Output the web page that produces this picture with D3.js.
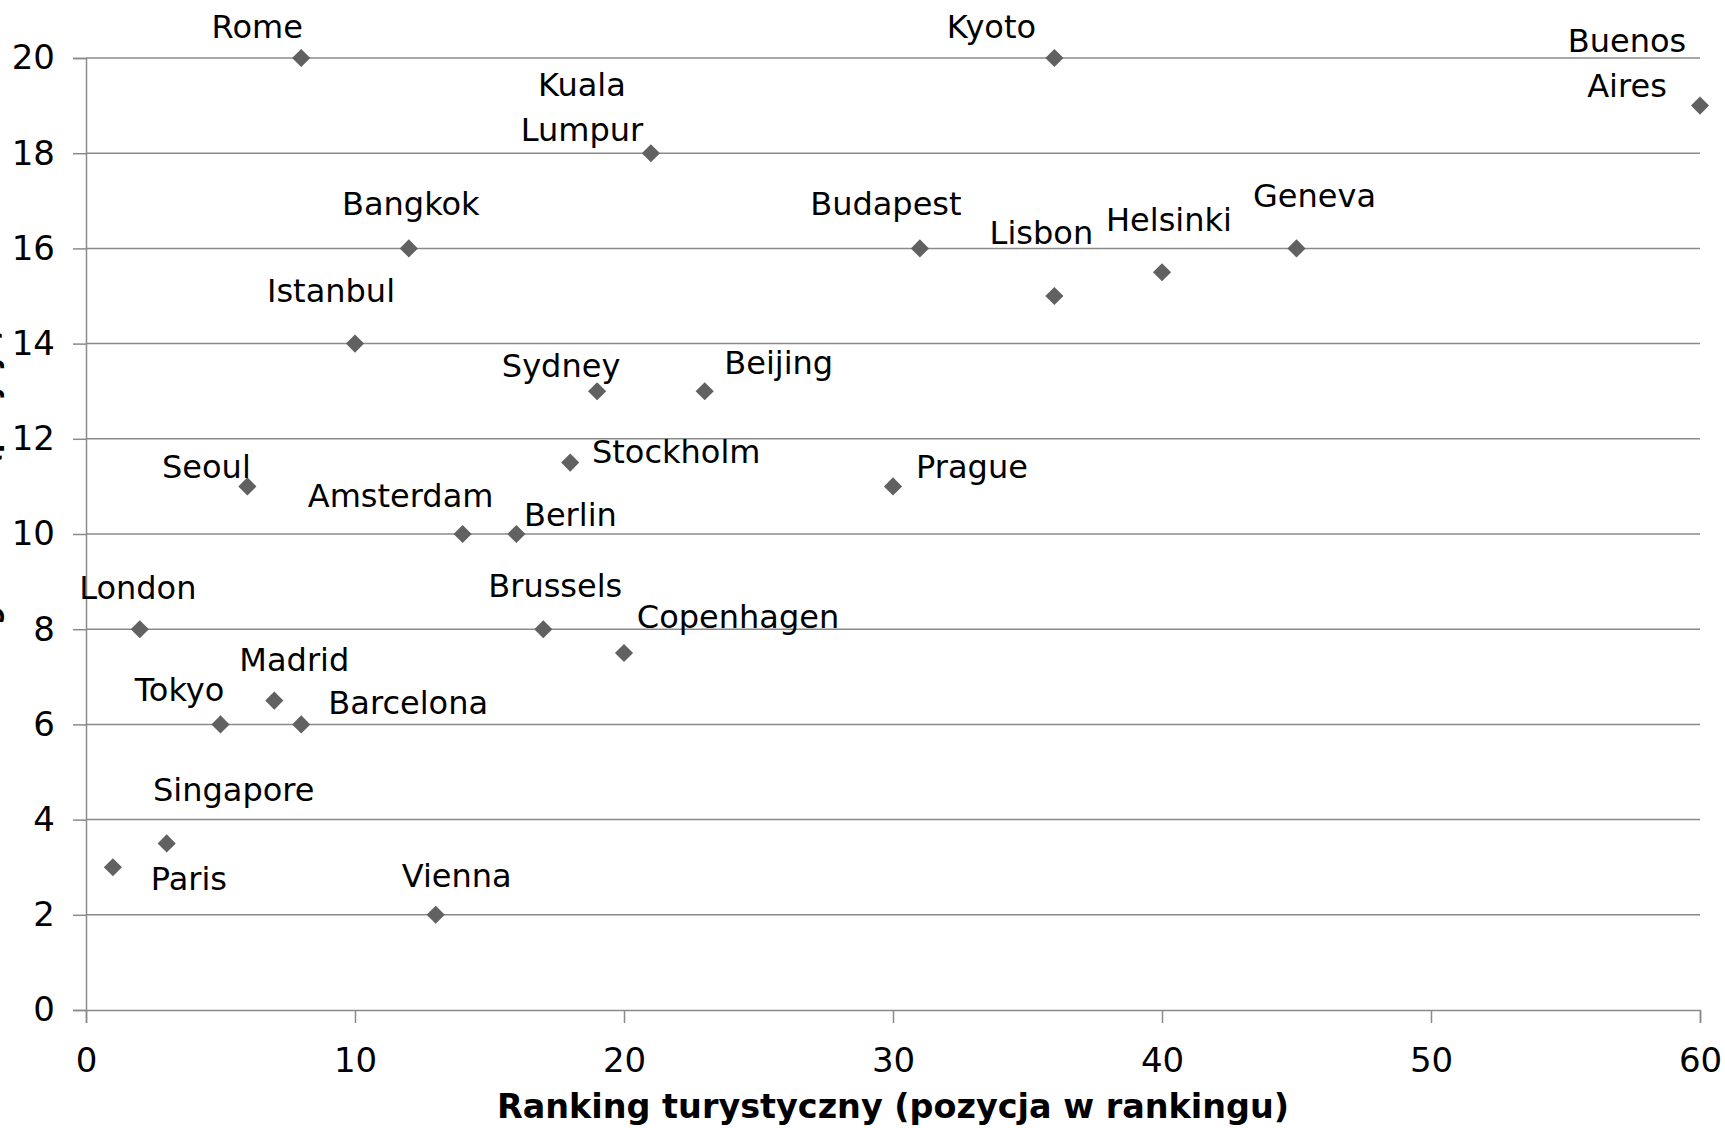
<!DOCTYPE html>
<html>
<head>
<meta charset="utf-8">
<script src="https://cdn.jsdelivr.net/npm/d3@7"></script>
<style>
  html, body { margin: 0; padding: 0; background: #fff; }
  svg { display: block; }
  text { font-family: "DejaVu Sans", Verdana, sans-serif; fill: #000; }
</style>
</head>
<body>
<script>
// ---- data ----
const cities = ["Rome","Kyoto","Buenos\nAires","Kuala\nLumpur","Bangkok","Budapest","Geneva","Helsinki","Lisbon","Istanbul","Sydney","Beijing","Stockholm","Seoul","Prague","Amsterdam","Berlin","London","Brussels","Copenhagen","Madrid","Tokyo","Barcelona","Singapore","Paris","Vienna"];
const tourismRank = [8,36,60,21,12,31,45,40,36,10,19,23,18,6,30,14,16,2,17,20,7,5,8,3,1,13];
const costRank =    [20,20,19,18,16,16,16,15.5,15,14,13,13,11.5,11,11,10,10,8,8,7.5,6.5,6,6,3.5,3,2];
const xTicks = [0,10,20,30,40,50,60];
const yTicks = [0,2,4,6,8,10,12,14,16,18,20];
const xTitle = "Ranking turystyczny (pozycja w rankingu)";
const yTitle = "Ranking kosztów (pozycja)";

// ---- label layout (pixel offsets from marker: centre x, middle y of first line) ----
const labelOffsets = [[-44,-32],[-63,-32],[-73,-65],[-69,-69],[2,-45],[-34,-45],[18,-53],[7,-53],[-13,-64],[-24,-53],[-36,-26],[74,-29],[106,-11],[-41,-20],[79,-20],[-62,-39],[54,-20],[-2,-42],[12,-44],[114,-37],[20,-41],[-41,-35],[107,-22],[67,-54],[76,11],[21,-39]];

const W = 1725, H = 1128;
const svg = d3.select("body").append("svg").attr("width", W).attr("height", H);

const x = d3.scaleLinear().domain([0, 60]).range([86, 1700]);
const y = d3.scaleLinear().domain([0, 20]).range([1010, 58]);
const grey = "#8a8a8a";

// gridlines
svg.append("g").selectAll("line").data(yTicks.filter(d => d > 0)).join("line")
  .attr("x1", x(0)).attr("x2", x(60))
  .attr("y1", d => y(d)).attr("y2", d => y(d))
  .attr("stroke", grey).attr("stroke-width", 1.5);

// y axis
const yAxis = svg.append("g").attr("transform", `translate(${x(0)},0)`)
  .call(d3.axisLeft(y).tickValues(yTicks).tickSize(13).tickPadding(18).tickFormat(d3.format("d")));
yAxis.select(".domain").attr("stroke", grey).attr("stroke-width", 1.5);
yAxis.selectAll(".tick line").attr("stroke", grey).attr("stroke-width", 1.5);
yAxis.selectAll(".tick text").attr("font-size", 34).attr("font-family", "DejaVu Sans").attr("fill", "#000");

// x axis
const xAxis = svg.append("g").attr("transform", `translate(0,${y(0)})`)
  .call(d3.axisBottom(x).tickValues(xTicks).tickSize(13).tickPadding(25).tickFormat(d3.format("d")));
xAxis.select(".domain").attr("stroke", grey).attr("stroke-width", 1.5);
xAxis.selectAll(".tick line").attr("stroke", grey).attr("stroke-width", 1.5);
xAxis.selectAll(".tick text").attr("font-size", 34).attr("font-family", "DejaVu Sans").attr("fill", "#000");

// axis titles
svg.append("text").attr("x", (x(0) + x(60)) / 2).attr("y", 1118)
  .attr("text-anchor", "middle").attr("font-size", 34).attr("font-weight", "bold")
  .attr("textLength", 792).attr("lengthAdjust", "spacingAndGlyphs")
  .text(xTitle);
svg.append("text").attr("transform", `translate(-3,528) rotate(-90)`)
  .attr("text-anchor", "middle").attr("font-size", 32).attr("font-weight", "bold")
  .attr("textLength", 400).attr("lengthAdjust", "spacingAndGlyphs")
  .text(yTitle);

// points
const pts = cities.map((c, i) => ({ c, xv: tourismRank[i], yv: costRank[i], off: labelOffsets[i] }));
const sym = d3.symbol().type(d3.symbolDiamond2).size(210);
svg.append("g").selectAll("path").data(pts).join("path")
  .attr("transform", d => `translate(${x(d.xv)},${y(d.yv)})`)
  .attr("d", sym).attr("fill", "#616161");

// labels
const lab = svg.append("g").selectAll("text").data(pts).join("text")
  .attr("text-anchor", "middle").attr("font-size", 32)
  .attr("x", d => x(d.xv) + d.off[0]).attr("y", d => y(d.yv) + d.off[1]);
lab.each(function(d) {
  const lines = d.c.split("\n");
  d3.select(this).selectAll("tspan").data(lines).join("tspan")
    .attr("x", x(d.xv) + d.off[0])
    .attr("dy", (l, i) => i === 0 ? "0.36em" : "45px")
    .text(l => l);
});
</script>
</body>
</html>
